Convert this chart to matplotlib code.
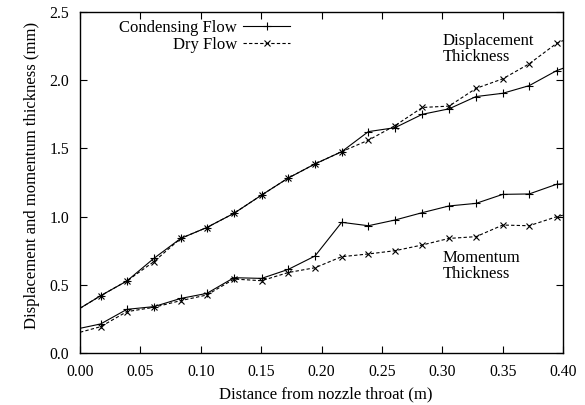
import matplotlib.pyplot as plt

plt.rcParams['font.family'] = 'Liberation Serif'

# distance from nozzle throat (m)
x = [0.0, 0.0171, 0.0388, 0.0612, 0.0834, 0.105, 0.1275, 0.1504, 0.1725, 0.1946,
     0.2167, 0.2388, 0.2609, 0.2835, 0.3056, 0.328, 0.3501, 0.372, 0.3947, 0.40]

# displacement thickness (mm)
disp_cond = [0.328, 0.42, 0.528, 0.694, 0.84, 0.92, 1.024, 1.158, 1.283, 1.386,
             1.476, 1.623, 1.652, 1.75, 1.79, 1.88, 1.904, 1.96, 2.07, 2.087]
disp_dry = [0.328, 0.42, 0.528, 0.67, 0.84, 0.92, 1.024, 1.158, 1.283, 1.386,
            1.476, 1.56, 1.667, 1.80, 1.81, 1.94, 2.01, 2.12, 2.27, 2.29]

# momentum thickness (mm)
mom_cond = [0.181, 0.213, 0.32, 0.34, 0.40, 0.437, 0.552, 0.547, 0.613, 0.711,
            0.958, 0.933, 0.975, 1.029, 1.078, 1.097, 1.163, 1.166, 1.237, 1.24]
mom_dry = [0.152, 0.193, 0.303, 0.335, 0.384, 0.425, 0.542, 0.53, 0.59, 0.625,
           0.706, 0.726, 0.75, 0.792, 0.84, 0.853, 0.938, 0.933, 0.999, 1.01]

fs = 12

fig = plt.figure(figsize=(5.85, 4.05), dpi=100)
ax = fig.add_axes([0.1368, 0.1284, 0.8256, 0.842])

mk = slice(1, -1)
solid = dict(color='black', lw=0.8, marker='+', ms=6, mew=0.8, markevery=mk)
dashed = dict(color='black', lw=0.8, ls=(0, (3, 2)), marker='x', ms=4.5, mew=0.8, markevery=mk)

ax.plot(x, disp_cond, label='Condensing Flow', **solid)
ax.plot(x, disp_dry, label='Dry Flow', **dashed)
ax.plot(x, mom_cond, **solid)
ax.plot(x, mom_dry, **dashed)

ax.set_xlim(0, 0.40)
ax.set_ylim(0, 2.5)
ax.set_xticks([0.0, 0.05, 0.10, 0.15, 0.20, 0.25, 0.30, 0.35, 0.40])
ax.set_yticks([0.0, 0.5, 1.0, 1.5, 2.0, 2.5])
ax.xaxis.set_major_formatter(plt.FormatStrFormatter('%.2f'))
ax.yaxis.set_major_formatter(plt.FormatStrFormatter('%.1f'))
ax.tick_params(direction='in', top=True, right=True, labelsize=11.3, length=5, width=0.8, pad=8)
for s in ax.spines.values():
    s.set_linewidth(1.0)

ax.set_xlabel('Distance from nozzle throat (m)', fontsize=fs)
ax.set_ylabel('Displacement and momentum thickness (mm)', fontsize=fs)
ax.xaxis.set_label_coords(0.509, -0.097)
ax.yaxis.set_label_coords(-0.083, 0.52)

ax.text(0.3006, 2.229, 'Displacement\nThickness', fontsize=fs, linespacing=0.95, va='center')
ax.text(0.3006, 0.638, 'Momentum\nThickness', fontsize=fs, linespacing=0.95, va='center')

ax.legend(loc='upper right', bbox_to_anchor=(0.435, 0.976), frameon=False, markerfirst=False,
          fontsize=fs, handlelength=2.8, labelspacing=0.05, handletextpad=0.4,
          borderpad=0, borderaxespad=0)

fig.savefig('out.png', dpi=100)
